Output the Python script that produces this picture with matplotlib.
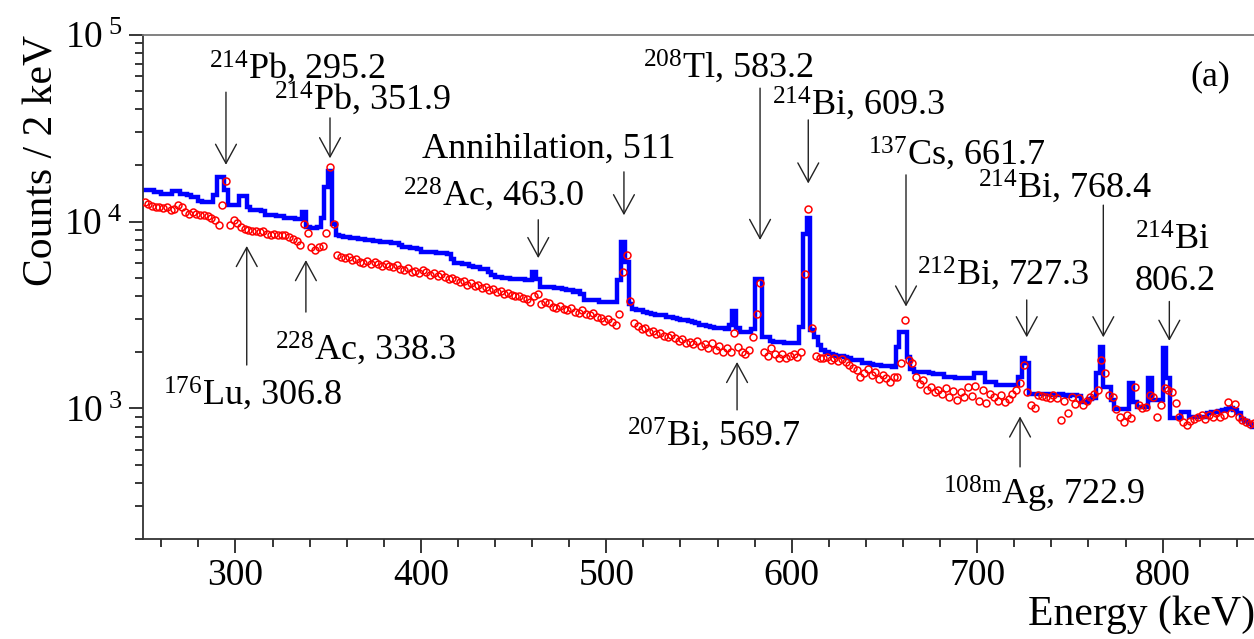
import matplotlib
matplotlib.use("Agg")
import matplotlib.pyplot as plt
import matplotlib.transforms as mtransforms
from matplotlib.ticker import LogLocator, MultipleLocator, FuncFormatter, NullFormatter
import numpy as np

# 2 keV bins from 250 to 850 keV
energy_edges = np.arange(250, 851, 2)

# blue histogram, counts per 2 keV (one row = 20 keV)
blue_counts = [
    14700, 14700, 14700, 14400, 14400, 14000, 14000, 14000, 14600, 14600,   # 250
    14000, 14000, 13900, 13500, 13500, 12900, 12700, 12700, 12700, 13800,   # 270
    17300, 17300, 14700, 12200, 12200, 12200, 13650, 13650, 11990, 11500,   # 290
    11500, 11500, 11400, 10800, 10800, 10800, 10700, 10700, 10400, 10400,   # 310
    10400, 10300, 10300, 11300, 9300, 9280, 9280, 9300, 10500, 15300,       # 330
    18600, 9700, 8450, 8400, 8300, 8300, 8120, 8120, 8100, 8050,            # 350
    8000, 7950, 7900, 7850, 7780, 7780, 7750, 7700, 7650, 7450,             # 370
    7300, 7300, 7250, 7200, 7100, 6900, 6880, 6880, 6850, 6800,             # 390
    6800, 6750, 6700, 6300, 6000, 6000, 5900, 5900, 5800, 5720,             # 410
    5720, 5600, 5600, 5370, 5200, 5050, 5050, 5000, 5000, 4950,             # 430
    4950, 4900, 4900, 4860, 4860, 5370, 4900, 4470, 4470, 4450,             # 450
    4450, 4400, 4400, 4350, 4300, 4300, 4200, 4250, 4120, 3800,             # 470
    3800, 3800, 3800, 3720, 3720, 3720, 3720, 3720, 4860, 7780,             # 490
    6090, 3640, 3400, 3360, 3360, 3300, 3250, 3200, 3150, 3150,             # 510
    3150, 3100, 3100, 3050, 3000, 2970, 2970, 2950, 2900, 2850,             # 530
    2790, 2790, 2760, 2720, 2680, 2680, 2680, 2650, 2800, 3330,             # 550
    2700, 2570, 2570, 2570, 2650, 4950, 4950, 2420, 2420, 2300,             # 570
    2270, 2270, 2270, 2250, 2250, 2250, 2250, 2730, 8600, 10390,            # 590
    2620, 2400, 2180, 2050, 2010, 1950, 1920, 1900, 1900, 1880,             # 610
    1860, 1810, 1810, 1810, 1760, 1740, 1720, 1700, 1700, 1690,             # 630
    1680, 1680, 1670, 2130, 2570, 2570, 1890, 1620, 1570, 1570,             # 650
    1570, 1560, 1550, 1525, 1525, 1525, 1465, 1465, 1465, 1460,             # 670
    1460, 1455, 1450, 1450, 1550, 1550, 1550, 1390, 1390, 1390,             # 690
    1340, 1330, 1330, 1330, 1330, 1330, 1480, 1870, 1740, 1200,             # 710
    1200, 1200, 1200, 1200, 1190, 1180, 1180, 1190, 1180, 1170,             # 730
    1180, 1175, 1170, 1085, 1085, 1120, 1130, 1540, 2130, 1305,             # 750
    1305, 1110, 990, 990, 990, 990, 1360, 1085, 1020, 1020,                 # 770
    1020, 1450, 1110, 1110, 1110, 2095, 1450, 885, 885, 885,                # 790
    960, 960, 900, 900, 900, 900, 900, 940, 960, 960,                       # 810
    965, 975, 990, 1000, 980, 940, 880, 860, 830, 800,                      # 830
]

# red open circles, counts per 2 keV (one row = 20 keV)
red_counts = [
    12700, 12400, 12100, 11900, 11900, 11800, 11900, 11600, 11700, 12200,   # 250
    12000, 11300, 11040, 11300, 11000, 10900, 10800, 10700, 10500, 10200,   # 270
    9540, 12300, 16500, 9600, 10200, 9800, 9300, 9150, 9000, 8900,          # 290
    8950, 8800, 8850, 8600, 8500, 8550, 8500, 8450, 8500, 8300,             # 310
    8100, 7900, 7500, 9760, 8700, 7300, 7050, 7300, 7400, 8650,             # 330
    19600, 9650, 6600, 6450, 6350, 6500, 6200, 6300, 6100, 6000,            # 350
    6150, 5950, 6050, 5900, 5800, 5950, 5750, 5700, 5850, 5600,             # 370
    5500, 5650, 5400, 5450, 5300, 5500, 5350, 5200, 5300, 5100,             # 390
    5250, 5050, 4950, 5000, 4860, 4750, 4800, 4600, 4700, 4500,             # 410
    4560, 4400, 4450, 4300, 4350, 4200, 4250, 4100, 4150, 4050,             # 430
    3980, 4000, 3900, 3850, 3700, 4000, 4100, 3600, 3700, 3650,             # 450
    3500, 3450, 3550, 3400, 3350, 3450, 3300, 3250, 3350, 3200,             # 470
    3150, 3250, 3100, 3050, 2950, 3000, 2900, 2800, 3200, 5370,             # 490
    6600, 3760, 2870, 2750, 2650, 2700, 2570, 2600, 2500, 2530,             # 510
    2450, 2400, 2480, 2380, 2300, 2350, 2250, 2280, 2200, 2300,             # 530
    2150, 2200, 2100, 2250, 2050, 2150, 2000, 2100, 2010, 2540,             # 550
    2140, 2000, 1950, 2050, 2420, 3200, 4700, 2000, 1900, 2100,             # 570
    1950, 1870, 1950, 1860, 1900, 1950, 1880, 2000, 5230, 11700,            # 590
    2680, 1900, 1870, 1850, 1880, 1820, 1850, 1800, 1830, 1780,             # 610
    1700, 1640, 1600, 1480, 1550, 1620, 1500, 1560, 1430, 1500,             # 630
    1460, 1390, 1480, 1480, 1750, 2990, 1810, 1750, 1480, 1350,             # 650
    1420, 1250, 1300, 1230, 1250, 1200, 1280, 1150, 1240, 1110,             # 670
    1220, 1150, 1300, 1160, 1320, 1100, 1250, 1070, 1200, 1150,             # 690
    1100, 1180, 1080, 1120, 1200, 1250, 1360, 1700, 1230, 1040,             # 710
    1000, 1180, 1160, 1150, 1135, 1180, 1140, 865, 1100, 950,               # 730
    1150, 1050, 1130, 1040, 1100, 1150, 1200, 1250, 1810, 1550,             # 750
    1180, 1150, 990, 900, 850, 920, 890, 1305, 1040, 1000,                  # 770
    1020, 1180, 1150, 900, 1040, 1280, 1250, 1230, 1065, 900,               # 790
    850, 815, 860, 880, 900, 920, 880, 920, 900, 940,                       # 810
    900, 920, 1085, 940, 1050, 900, 870, 850, 820, 840,                     # 830
]

# peak labels: text, arrow energy, arrow tail / head (axes fraction), text energy, text baseline
labels_down = [
    (r"$^{214}$Pb, 295.2", 294.9, 0.886, 0.742, 286.0, 0.914),
    (r"$^{214}$Pb, 351.9", 351.0, 0.835, 0.755, 321.0, 0.851),
    (r"Annihilation, 511", 509.5, 0.728, 0.642, 400.5, 0.757),
    (r"$^{228}$Ac, 463.0", 463.3, 0.633, 0.557, 390.5, 0.662),
    (r"$^{208}$Tl, 583.2", 582.9, 0.894, 0.593, 519.8, 0.916),
    (r"$^{214}$Bi, 609.3", 608.9, 0.831, 0.705, 589.3, 0.841),
    (r"$^{137}$Cs, 661.7", 661.6, 0.722, 0.461, 641.0, 0.742),
    (r"$^{214}$Bi, 768.4", 768.0, 0.662, 0.400, 700.4, 0.678),
    (r"$^{212}$Bi, 727.3", 726.7, 0.474, 0.400, 667.5, 0.504),
    (r"806.2", 803.6, 0.471, 0.393, 785.0, 0.494),
]
labels_up = [
    (r"$^{228}$Ac, 338.3", 338.0, 0.450, 0.553, 321.3, 0.355),
    (r"$^{176}$Lu, 306.8", 306.1, 0.345, 0.581, 260.9, 0.266),
    (r"$^{207}$Bi, 569.7", 570.5, 0.256, 0.351, 511.2, 0.186),
    (r"$^{108\mathrm{m}}$Ag, 722.9", 723.1, 0.143, 0.243, 681.6, 0.067),
]

plt.rcParams["font.family"] = ["Liberation Serif", "DejaVu Serif"]
plt.rcParams["mathtext.fontset"] = "custom"
plt.rcParams["mathtext.rm"] = "Liberation Serif"
plt.rcParams["mathtext.it"] = "Liberation Serif:italic"
plt.rcParams["mathtext.bf"] = "Liberation Serif:bold"

fig = plt.figure(figsize=(12.54, 6.39), dpi=100)
ax = fig.add_axes([0.1138, 0.1565, 0.8873, 0.7892])

centers = (energy_edges[:-1] + energy_edges[1:]) / 2
ax.stairs(blue_counts, energy_edges, baseline=None, color="#0000ff", lw=3.2, zorder=2)
ax.plot(centers, red_counts, "o", mfc="none", mec="#ff0000", ms=5.0, mew=1.1, zorder=3)

ax.set_yscale("log")
ax.set_xlim(250, 850)
ax.set_ylim(200, 1e5)

ax.yaxis.set_major_locator(LogLocator(base=10, numticks=10))
ax.yaxis.set_minor_locator(LogLocator(base=10, subs=np.arange(2, 10), numticks=20))
ax.yaxis.set_minor_formatter(NullFormatter())
ax.yaxis.set_major_formatter(FuncFormatter(
    lambda v, p: r"$\mathregular{10^{\;%d}}$" % round(np.log10(v))))
ax.xaxis.set_major_locator(MultipleLocator(100))
ax.xaxis.set_minor_locator(MultipleLocator(20))

ax.tick_params(which="major", direction="out", length=10, width=1.1, labelsize=27,
               colors="black")
ax.tick_params(which="minor", direction="out", length=6, width=1.1)
ax.tick_params(axis="x", which="major", pad=4)
ax.tick_params(axis="y", which="major", pad=5)

for side in ["left", "bottom"]:
    ax.spines[side].set_color("#333333")
    ax.spines[side].set_linewidth(1.3)
ax.spines["top"].set_color("#777777")
ax.spines["top"].set_linewidth(1.3)
ax.spines["right"].set_visible(False)

ax.set_xlabel("Energy (keV)", fontsize=30, loc="right", labelpad=2)
ax.set_ylabel("Counts / 2 keV", fontsize=30, loc="top", labelpad=2)

trans = mtransforms.blended_transform_factory(ax.transData, ax.transAxes)
arrow_style = dict(arrowstyle="->,head_length=0.55,head_width=0.3", color="#222222",
                   lw=1.0, shrinkA=0, shrinkB=0, mutation_scale=25)

for txt, ex, y0, y1, tx, ty in labels_down + labels_up:
    ax.annotate("", xy=(ex, y1), xycoords=trans, xytext=(ex, y0), textcoords=trans,
                arrowprops=arrow_style)
    ax.text(tx, ty, txt, transform=trans, fontsize=26, ha="left", va="baseline")

# second line for 806.2 label
ax.text(785.0, 0.573, r"$^{214}$Bi", transform=trans, fontsize=26, ha="left", va="baseline")
ax.text(814.9, 0.900, "(a)", transform=trans, fontsize=26, ha="left", va="baseline")

fig.savefig("out.png", dpi=100)
